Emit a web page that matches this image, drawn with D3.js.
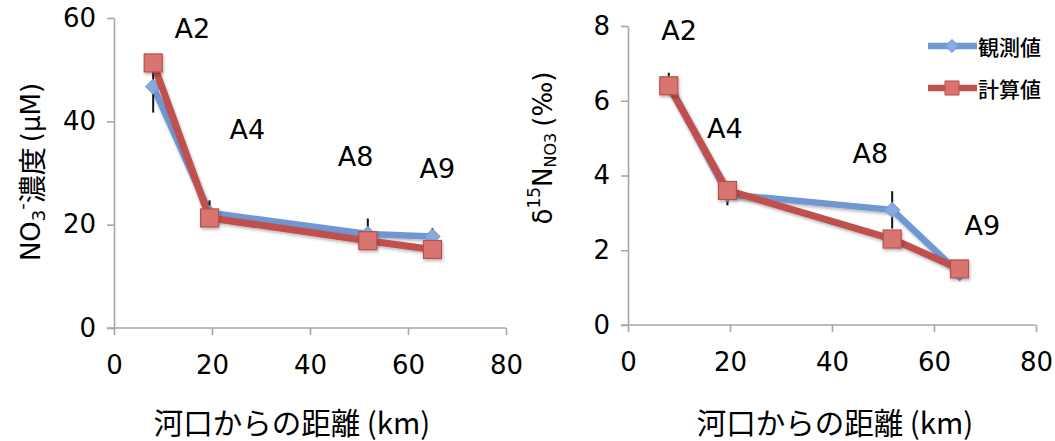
<!DOCTYPE html>
<html>
<head>
<meta charset="utf-8">
<script src="https://cdn.jsdelivr.net/npm/d3@7"></script>
<style>
  html, body { margin: 0; padding: 0; background: #fff; }
  svg { display: block; }
  text { font-family: "DejaVu Sans", "Open Sans", sans-serif; fill: #000; }
  .cjk { font-family: "Noto Sans CJK JP", "Noto Sans", sans-serif; }
</style>
</head>
<body>
<svg id="chart" width="1055" height="441"></svg>
<script>
// Sampling stations and their distance from the river mouth (km)
const stations = ["A2", "A4", "A8", "A9"];
const distanceKm = [8.0, 19.5, 51.8, 65.0];

// Nitrate concentration (µM)
const no3Observed = [46.7, 22.3, 18.2, 17.7];
const no3ObservedErr = [5.0, 2.4, 3.0, 1.6];
const no3Calculated = [51.3, 21.3, 16.9, 15.2];

// δ15N of nitrate (‰)
const d15nObserved = [6.45, 3.5, 3.08, 1.38];
const d15nObservedErr = [0.3, 0.3, 0.5, 0.1];
const d15nCalculated = [6.4, 3.6, 2.3, 1.5];

// Station label anchor points, in data units [km, value]
const no3LabelAt = [[16.0, 58.0], [27.2, 38.4], [49.3, 33.2], [66.0, 30.8]];
const d15nLabelAt = [[10.0, 7.88], [19.0, 5.25], [47.5, 4.6], [69.5, 2.65]];

const xTicks = [0, 20, 40, 60, 80];
const no3Ticks = [0, 20, 40, 60];
const d15nTicks = [0, 2, 4, 6, 8];

const seriesNames = ["観測値", "計算値"];

const BLUE = "#7097d2";
const BLUE_FILL = "#86aae0";
const RED = "#c0504d";
const RED_FILL = "#d9746f";
const AXIS = "#a6a6a6";

const svg = d3.select("#chart");

const defs = svg.append("defs");
const shadow = defs.append("filter").attr("id", "soft-shadow")
  .attr("x", "-30%").attr("y", "-30%").attr("width", "160%").attr("height", "160%");
shadow.append("feDropShadow")
  .attr("dx", 1).attr("dy", 2).attr("stdDeviation", 1.6)
  .attr("flood-color", "#000").attr("flood-opacity", 0.28);

function drawPanel(cfg) {
  const g = svg.append("g");
  const x = d3.scaleLinear().domain([0, 80]).range(cfg.xRange);
  const y = d3.scaleLinear().domain(cfg.yDomain).range(cfg.yRange);

  // Y axis
  const yAxis = g.append("g")
    .attr("transform", `translate(${cfg.xRange[0]},0)`)
    .call(d3.axisLeft(y).tickValues(cfg.yTicks).tickSize(7).tickSizeOuter(0).tickPadding(11));
  // X axis
  const xAxis = g.append("g")
    .attr("transform", `translate(0,${cfg.yRange[0]})`)
    .call(d3.axisBottom(x).tickValues(xTicks).tickSize(7).tickSizeOuter(0).tickPadding(21));
  [yAxis, xAxis].forEach(a => {
    a.select(".domain").attr("stroke", AXIS).attr("stroke-width", 1.6);
    a.selectAll(".tick line").attr("stroke", AXIS).attr("stroke-width", 1.6);
    a.selectAll(".tick text").attr("font-size", 26).attr("fill", "#000")
      .style("font-family", '"DejaVu Sans", sans-serif');
  });
  // Extend the x axis baseline to meet the y tick length on the left
  xAxis.select(".domain").attr("d", `M${cfg.xRange[0] - 7},0H${cfg.xRange[1]}`);

  const pts = (vals) => vals.map((v, i) => [x(distanceKm[i]), y(v)]);
  const line = d3.line();

  // Observed series: line, error bars, diamonds
  const obs = pts(cfg.observed);
  g.append("path").attr("d", line(obs))
    .attr("fill", "none").attr("stroke", BLUE).attr("stroke-width", 6.5)
    .attr("stroke-linejoin", "round").attr("filter", "url(#soft-shadow)");
  g.append("g").selectAll("line").data(cfg.observed).join("line")
    .attr("x1", (d, i) => x(distanceKm[i])).attr("x2", (d, i) => x(distanceKm[i]))
    .attr("y1", (d, i) => y(d - cfg.observedErr[i]))
    .attr("y2", (d, i) => y(d + cfg.observedErr[i]))
    .attr("stroke", "#111").attr("stroke-width", 2);
  g.append("g").selectAll("path").data(obs).join("path")
    .attr("d", d3.symbol(d3.symbolDiamond2, 150)())
    .attr("transform", d => `translate(${d[0]},${d[1]})`)
    .attr("fill", BLUE_FILL).attr("stroke", BLUE).attr("stroke-width", 1);

  // Calculated series: line and squares
  const calc = pts(cfg.calculated);
  g.append("path").attr("d", line(calc))
    .attr("fill", "none").attr("stroke", RED).attr("stroke-width", 7)
    .attr("stroke-linejoin", "round").attr("filter", "url(#soft-shadow)");
  g.append("g").selectAll("rect").data(calc).join("rect")
    .attr("x", d => d[0] - 9).attr("y", d => d[1] - 9)
    .attr("width", 18).attr("height", 18)
    .attr("fill", RED_FILL).attr("stroke", "#b9504c").attr("stroke-width", 1.2)
    .attr("filter", "url(#soft-shadow)");

  // Station labels
  g.append("g").selectAll("text").data(cfg.labelAt).join("text")
    .attr("x", d => x(d[0])).attr("y", d => y(d[1]))
    .attr("text-anchor", "middle").attr("dominant-baseline", "central")
    .attr("font-size", 27)
    .text((d, i) => stations[i]);

  // X axis title
  g.append("text").attr("class", "cjk")
    .attr("x", cfg.xTitleX).attr("y", 421)
    .attr("text-anchor", "middle").attr("dominant-baseline", "central")
    .attr("font-size", 29.5)
    .text("河口からの距離 (km)");

  return { x, y, g };
}

// Left panel: nitrate concentration
drawPanel({
  xRange: [114, 506], yDomain: [0, 60], yRange: [328, 18], yTicks: no3Ticks,
  observed: no3Observed, observedErr: no3ObservedErr, calculated: no3Calculated,
  labelAt: no3LabelAt, xTitleX: 292
});
const leftTitle = svg.append("text")
  .attr("transform", "translate(31,172) rotate(-90)")
  .attr("text-anchor", "middle").attr("dominant-baseline", "central")
  .attr("font-size", 26);
leftTitle.append("tspan").text("NO");
leftTitle.append("tspan").attr("font-size", 18).attr("dy", 7).text("3");
leftTitle.append("tspan").attr("font-size", 18).attr("dy", -17).text("-");
leftTitle.append("tspan").attr("class", "cjk").attr("font-size", 28).attr("dy", 10).text("濃度");
leftTitle.append("tspan").attr("dx", 5).text("(µM)");

// Right panel: nitrate δ15N
drawPanel({
  xRange: [628, 1036], yDomain: [0, 8], yRange: [325, 26], yTicks: d15nTicks,
  observed: d15nObserved, observedErr: d15nObservedErr, calculated: d15nCalculated,
  labelAt: d15nLabelAt, xTitleX: 835
});
const rightTitle = svg.append("text")
  .attr("transform", "translate(543,148) rotate(-90)")
  .attr("text-anchor", "middle").attr("dominant-baseline", "central")
  .attr("font-size", 26);
rightTitle.append("tspan").text("δ");
rightTitle.append("tspan").attr("font-size", 17).attr("dy", -9).text("15");
rightTitle.append("tspan").attr("dy", 9).text("N");
rightTitle.append("tspan").attr("font-size", 16).attr("dy", 7).text("NO3");
rightTitle.append("tspan").attr("dy", -7).attr("dx", 6).text("(‰)");

// Legend
const legendRows = [
  { name: seriesNames[0], color: BLUE, fill: BLUE_FILL, shape: "diamond", y: 46 },
  { name: seriesNames[1], color: RED, fill: RED_FILL, shape: "square", y: 88 }
];
const legend = svg.append("g");
legendRows.forEach(r => {
  legend.append("line").attr("x1", 928).attr("x2", 977).attr("y1", r.y).attr("y2", r.y)
    .attr("stroke", r.color).attr("stroke-width", 6.5);
  if (r.shape === "diamond") {
    legend.append("path").attr("d", d3.symbol(d3.symbolDiamond2, 110)())
      .attr("transform", `translate(952,${r.y})`)
      .attr("fill", r.fill).attr("stroke", r.color).attr("stroke-width", 1);
  } else {
    legend.append("rect").attr("x", 945).attr("y", r.y - 7).attr("width", 14).attr("height", 14)
      .attr("fill", r.fill).attr("stroke", "#b9504c").attr("stroke-width", 1);
  }
  legend.append("text").attr("class", "cjk")
    .attr("x", 978).attr("y", r.y).attr("dominant-baseline", "central")
    .attr("font-size", 21).attr("font-weight", 500)
    .text(r.name);
});
</script>
</body>
</html>
